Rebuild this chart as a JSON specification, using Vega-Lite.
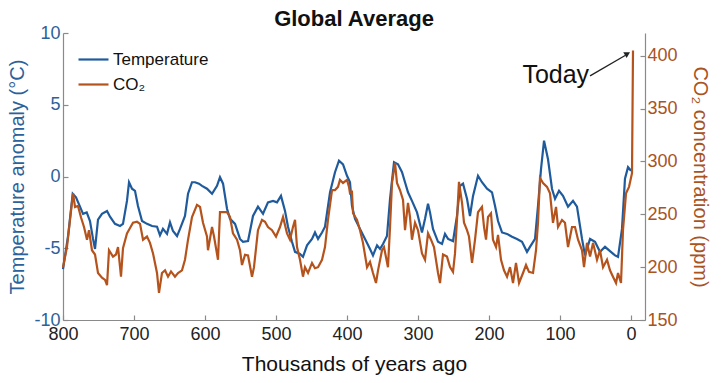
{
  "$schema": "https://vega.github.io/schema/vega-lite/v6.json",
  "width": 582,
  "height": 287,
  "autosize": {"type": "none"},
  "padding": {"left": 63, "top": 33, "right": 81, "bottom": 63},
  "background": "white",
  "config": {
    "view": {"stroke": null},
    "font": "Liberation Sans",
    "axis": {"grid": false, "labelFont": "Liberation Sans", "titleFont": "Liberation Sans", "labelFlush": false, "labelOverlap": false, "domainColor": "#8a8a8a", "tickColor": "#8a8a8a", "domainWidth": 1.2, "tickWidth": 1.2, "titleFontWeight": "normal"}
  },
  "title": {"text": "Global Average", "fontSize": 22, "fontWeight": "bold", "color": "#111111", "offset": -7, "anchor": "middle", "font": "Liberation Sans"},
  "datasets": {
    "temp": [
      {"a": 800, "v": -6.45}, {"a": 793, "v": -4.2}, {"a": 786.3, "v": -1.2}, {"a": 781.7, "v": -1.45}, {"a": 776.1, "v": -2.1}, {"a": 771.8, "v": -2.6}, {"a": 766.6, "v": -2.5}, {"a": 762.0, "v": -3.1}, {"a": 757.7, "v": -4.35}, {"a": 754.9, "v": -5.05}, {"a": 750.7, "v": -3.0}, {"a": 745.1, "v": -2.6}, {"a": 738.0, "v": -2.4}, {"a": 733.8, "v": -2.8}, {"a": 726.8, "v": -3.3}, {"a": 719.7, "v": -3.45}, {"a": 715.5, "v": -3.3}, {"a": 709.9, "v": -1.7}, {"a": 707.0, "v": -0.4}, {"a": 702.8, "v": -0.85}, {"a": 698.6, "v": -1.0}, {"a": 694.4, "v": -2.05}, {"a": 688.7, "v": -3.1}, {"a": 681.7, "v": -3.3}, {"a": 674.6, "v": -3.45}, {"a": 667.6, "v": -3.5}, {"a": 663.4, "v": -4.1}, {"a": 659.2, "v": -3.65}, {"a": 653.5, "v": -4.0}, {"a": 649.3, "v": -3.2}, {"a": 645.1, "v": -3.8}, {"a": 639.4, "v": -4.15}, {"a": 635.2, "v": -3.65}, {"a": 628.2, "v": -2.75}, {"a": 623.9, "v": -1.2}, {"a": 618.3, "v": -0.4}, {"a": 614.1, "v": -0.4}, {"a": 608.5, "v": -0.5}, {"a": 604.2, "v": -0.65}, {"a": 597.2, "v": -0.85}, {"a": 590.1, "v": -1.2}, {"a": 583.1, "v": -0.65}, {"a": 578.9, "v": -0.05}, {"a": 574.6, "v": -0.5}, {"a": 569.0, "v": -2.25}, {"a": 564.8, "v": -2.95}, {"a": 557.7, "v": -3.3}, {"a": 550.7, "v": -4.35}, {"a": 546.5, "v": -4.55}, {"a": 539.4, "v": -4.5}, {"a": 532.4, "v": -2.75}, {"a": 525.4, "v": -2.1}, {"a": 518.3, "v": -2.6}, {"a": 511.3, "v": -1.8}, {"a": 504.2, "v": -1.7}, {"a": 498.6, "v": -1.8}, {"a": 493.0, "v": -1.35}, {"a": 487.3, "v": -2.4}, {"a": 483.1, "v": -3.5}, {"a": 477.5, "v": -4.55}, {"a": 473.2, "v": -5.25}, {"a": 466.2, "v": -5.4}, {"a": 462.0, "v": -5.6}, {"a": 456.3, "v": -4.8}, {"a": 449.3, "v": -4.35}, {"a": 445.1, "v": -3.9}, {"a": 440.8, "v": -4.35}, {"a": 435.2, "v": -3.9}, {"a": 431.0, "v": -3.5}, {"a": 423.9, "v": -1.1}, {"a": 416.9, "v": 0.3}, {"a": 411.3, "v": 1.1}, {"a": 405.6, "v": 0.85}, {"a": 400.0, "v": 0.05}, {"a": 395.8, "v": -0.4}, {"a": 393.0, "v": -2.05}, {"a": 388.7, "v": -2.95}, {"a": 381.7, "v": -3.65}, {"a": 374.6, "v": -4.35}, {"a": 367.6, "v": -5.05}, {"a": 363.4, "v": -5.5}, {"a": 357.7, "v": -4.8}, {"a": 353.5, "v": -5.05}, {"a": 349.3, "v": -4.7}, {"a": 343.7, "v": -4.15}, {"a": 339.4, "v": -1.55}, {"a": 333.8, "v": 1.0}, {"a": 328.2, "v": 0.85}, {"a": 322.5, "v": 0.3}, {"a": 318.3, "v": -0.4}, {"a": 314.1, "v": -1.1}, {"a": 308.5, "v": -1.7}, {"a": 301.4, "v": -2.5}, {"a": 294.4, "v": -3.9}, {"a": 290.1, "v": -2.95}, {"a": 285.9, "v": -1.9}, {"a": 283.1, "v": -2.5}, {"a": 278.9, "v": -3.65}, {"a": 271.8, "v": -4.55}, {"a": 266.2, "v": -4.7}, {"a": 262.0, "v": -4.0}, {"a": 257.7, "v": -4.35}, {"a": 250.7, "v": -4.5}, {"a": 245.1, "v": -2.75}, {"a": 240.8, "v": -0.65}, {"a": 236.6, "v": -0.5}, {"a": 231.0, "v": -1.55}, {"a": 226.8, "v": -2.75}, {"a": 222.5, "v": -1.35}, {"a": 215.5, "v": 0.05}, {"a": 209.9, "v": -0.4}, {"a": 202.8, "v": -0.85}, {"a": 195.8, "v": -1.1}, {"a": 191.5, "v": -2.05}, {"a": 187.3, "v": -3.1}, {"a": 181.7, "v": -3.9}, {"a": 174.6, "v": -4.0}, {"a": 167.6, "v": -4.2}, {"a": 160.6, "v": -4.35}, {"a": 153.5, "v": -4.55}, {"a": 146.5, "v": -5.25}, {"a": 142.3, "v": -4.9}, {"a": 135.2, "v": -4.35}, {"a": 131.0, "v": -2.05}, {"a": 126.8, "v": 0.5}, {"a": 122.5, "v": 2.5}, {"a": 116.9, "v": 1.2}, {"a": 111.3, "v": -0.85}, {"a": 107.0, "v": -1.55}, {"a": 101.4, "v": -1.0}, {"a": 95.8, "v": -1.35}, {"a": 88.7, "v": -2.1}, {"a": 81.7, "v": -1.7}, {"a": 76.1, "v": -2.1}, {"a": 69.0, "v": -4.35}, {"a": 64.8, "v": -5.5}, {"a": 57.7, "v": -4.35}, {"a": 50.7, "v": -4.55}, {"a": 43.7, "v": -5.25}, {"a": 36.6, "v": -4.9}, {"a": 29.6, "v": -5.2}, {"a": 22.5, "v": -5.5}, {"a": 18.3, "v": -5.6}, {"a": 12.7, "v": -3.65}, {"a": 8.5, "v": -0.15}, {"a": 4.2, "v": 0.65}, {"a": 0.0, "v": 0.4}
    ],
    "co2": [
      {"a": 800, "v": 200}, {"a": 794.4, "v": 219}, {"a": 785.9, "v": 270}, {"a": 783.1, "v": 257}, {"a": 778.9, "v": 258}, {"a": 774.6, "v": 247}, {"a": 770.4, "v": 238}, {"a": 766.2, "v": 226}, {"a": 763.4, "v": 235}, {"a": 759.2, "v": 216}, {"a": 754.9, "v": 212}, {"a": 750.7, "v": 194.5}, {"a": 745.1, "v": 190}, {"a": 740.8, "v": 188}, {"a": 738.0, "v": 183}, {"a": 735.2, "v": 216}, {"a": 729.6, "v": 210}, {"a": 725.4, "v": 212}, {"a": 722.5, "v": 219}, {"a": 718.3, "v": 191}, {"a": 715.5, "v": 218}, {"a": 709.9, "v": 232}, {"a": 705.6, "v": 237}, {"a": 701.4, "v": 242}, {"a": 695.8, "v": 243}, {"a": 691.5, "v": 241}, {"a": 687.3, "v": 226}, {"a": 681.7, "v": 229}, {"a": 677.5, "v": 223}, {"a": 673.2, "v": 213}, {"a": 667.6, "v": 194.5}, {"a": 664.8, "v": 175.6}, {"a": 660.6, "v": 194.5}, {"a": 656.3, "v": 197}, {"a": 652.1, "v": 191}, {"a": 647.9, "v": 196}, {"a": 642.3, "v": 191}, {"a": 638.0, "v": 194.5}, {"a": 632.4, "v": 197}, {"a": 628.2, "v": 207}, {"a": 623.9, "v": 226}, {"a": 618.3, "v": 247.5}, {"a": 611.3, "v": 259}, {"a": 607.0, "v": 257}, {"a": 602.8, "v": 242}, {"a": 597.2, "v": 229}, {"a": 595.8, "v": 216}, {"a": 590.1, "v": 238}, {"a": 587.3, "v": 229}, {"a": 581.7, "v": 207}, {"a": 578.9, "v": 252}, {"a": 573.2, "v": 252}, {"a": 569.0, "v": 252}, {"a": 564.8, "v": 247.5}, {"a": 560.6, "v": 232}, {"a": 554.9, "v": 226}, {"a": 550.7, "v": 216}, {"a": 547.9, "v": 202}, {"a": 543.7, "v": 211.6}, {"a": 539.4, "v": 211}, {"a": 533.8, "v": 191}, {"a": 531.0, "v": 200}, {"a": 525.4, "v": 235}, {"a": 519.7, "v": 244.7}, {"a": 515.5, "v": 243}, {"a": 511.3, "v": 238}, {"a": 505.6, "v": 235}, {"a": 500.0, "v": 229}, {"a": 494.4, "v": 238}, {"a": 490.1, "v": 247.5}, {"a": 484.5, "v": 232}, {"a": 480.3, "v": 226}, {"a": 476.1, "v": 238}, {"a": 473.2, "v": 244.7}, {"a": 470.4, "v": 219}, {"a": 466.2, "v": 207}, {"a": 462.0, "v": 191}, {"a": 459.2, "v": 200}, {"a": 454.9, "v": 194.5}, {"a": 449.3, "v": 204}, {"a": 445.1, "v": 199}, {"a": 440.8, "v": 200}, {"a": 435.2, "v": 207}, {"a": 431.0, "v": 219}, {"a": 426.8, "v": 244.7}, {"a": 421.1, "v": 273}, {"a": 416.9, "v": 273}, {"a": 412.7, "v": 276}, {"a": 409.9, "v": 282.6}, {"a": 405.6, "v": 279.7}, {"a": 400.0, "v": 282.6}, {"a": 397.2, "v": 276}, {"a": 395.8, "v": 270}, {"a": 393.0, "v": 271}, {"a": 391.5, "v": 251}, {"a": 385.9, "v": 244.7}, {"a": 381.7, "v": 235}, {"a": 377.5, "v": 223}, {"a": 371.8, "v": 200}, {"a": 367.6, "v": 205}, {"a": 363.4, "v": 194.5}, {"a": 359.2, "v": 185}, {"a": 356.3, "v": 197}, {"a": 350.7, "v": 216}, {"a": 347.9, "v": 219}, {"a": 342.3, "v": 200}, {"a": 339.4, "v": 238}, {"a": 336.6, "v": 279.7}, {"a": 332.4, "v": 298.7}, {"a": 329.6, "v": 279.7}, {"a": 325.4, "v": 273}, {"a": 321.1, "v": 263.6}, {"a": 318.3, "v": 235}, {"a": 314.1, "v": 260.8}, {"a": 311.3, "v": 247.5}, {"a": 308.5, "v": 226}, {"a": 304.2, "v": 242}, {"a": 300.0, "v": 235}, {"a": 294.4, "v": 213}, {"a": 290.1, "v": 207}, {"a": 285.9, "v": 232}, {"a": 281.7, "v": 226}, {"a": 277.5, "v": 219}, {"a": 271.8, "v": 194.5}, {"a": 269.0, "v": 185}, {"a": 264.8, "v": 212}, {"a": 259.2, "v": 210}, {"a": 254.9, "v": 200}, {"a": 250.7, "v": 195.5}, {"a": 247.9, "v": 213}, {"a": 245.1, "v": 244.7}, {"a": 242.3, "v": 280.7}, {"a": 238.0, "v": 260.8}, {"a": 235.2, "v": 242}, {"a": 231.0, "v": 235}, {"a": 228.2, "v": 229}, {"a": 223.9, "v": 204}, {"a": 219.7, "v": 226}, {"a": 215.5, "v": 252}, {"a": 209.9, "v": 257}, {"a": 207.0, "v": 238}, {"a": 204.2, "v": 226}, {"a": 201.4, "v": 247.5}, {"a": 197.2, "v": 251}, {"a": 194.4, "v": 226}, {"a": 190.1, "v": 219}, {"a": 187.3, "v": 230.5}, {"a": 183.1, "v": 207}, {"a": 178.9, "v": 197}, {"a": 174.6, "v": 191}, {"a": 170.4, "v": 200}, {"a": 166.2, "v": 185}, {"a": 162.0, "v": 204}, {"a": 157.7, "v": 185}, {"a": 152.1, "v": 194.5}, {"a": 147.9, "v": 202}, {"a": 143.7, "v": 195.5}, {"a": 138.0, "v": 194.5}, {"a": 133.8, "v": 216}, {"a": 131.0, "v": 242}, {"a": 128.2, "v": 284.5}, {"a": 123.9, "v": 279.7}, {"a": 118.3, "v": 276}, {"a": 114.1, "v": 270}, {"a": 109.9, "v": 242}, {"a": 105.6, "v": 257}, {"a": 102.8, "v": 238}, {"a": 97.2, "v": 244.7}, {"a": 93.0, "v": 242}, {"a": 88.7, "v": 219}, {"a": 83.1, "v": 238}, {"a": 78.9, "v": 238}, {"a": 74.6, "v": 226}, {"a": 69.0, "v": 216}, {"a": 66.2, "v": 200}, {"a": 62.0, "v": 223}, {"a": 57.7, "v": 210}, {"a": 53.5, "v": 223}, {"a": 47.9, "v": 207}, {"a": 43.7, "v": 216}, {"a": 39.4, "v": 200}, {"a": 33.8, "v": 207}, {"a": 29.6, "v": 197}, {"a": 25.4, "v": 191}, {"a": 21.1, "v": 185}, {"a": 18.3, "v": 194.5}, {"a": 14.1, "v": 185}, {"a": 11.3, "v": 235}, {"a": 7.0, "v": 270}, {"a": 2.8, "v": 276}, {"a": -1.4, "v": 289}, {"a": -2.8, "v": 405}
    ],
    "note": [{"a": 59, "v": 382, "label": "Today"}],
    "arrow": [{"a": 57.7, "v": 381}, {"a": 7.7, "v": 400.5}],
    "head": [{"a": 5.0, "v": 402}]
  },
  "encoding": {
    "x": {
      "field": "a",
      "type": "quantitative",
      "scale": {"domain": [-19.7, 800], "reverse": true, "nice": false, "zero": false},
      "axis": {"title": "Thousands of years ago", "values": [0, 100, 200, 300, 400, 500, 600, 700, 800], "format": "d", "labelFontSize": 18, "labelColor": "#222222", "titleFontSize": 21, "titleColor": "#111111", "tickSize": -5, "labelPadding": 10, "titlePadding": 10}
    }
  },
  "layer": [
    {
      "data": {"name": "temp"},
      "mark": {"type": "line", "strokeWidth": 2.2},
      "encoding": {
        "y": {
          "field": "v",
          "type": "quantitative",
          "scale": {"domain": [-10, 10], "nice": false, "zero": false},
          "axis": {"title": "Temperature anomaly (°C)", "values": [-10, -5, 0, 5, 10], "labelExpr": "'' + datum.value", "labelFontSize": 18, "labelColor": "#2b629a", "titleColor": "#2b629a", "titleFontSize": 20, "tickSize": -5, "labelPadding": 8, "titlePadding": 6}
        },
        "color": {
          "datum": "Temperature",
          "scale": {"domain": ["Temperature", "CO₂"], "range": ["#1f5b9c", "#b5531d"]},
          "legend": {"title": null, "orient": "none", "legendX": 14, "legendY": 10, "symbolType": "stroke", "symbolSize": 900, "symbolStrokeWidth": 2.2, "labelFontSize": 17, "labelColor": "#111111", "labelFont": "Liberation Sans", "rowPadding": -8, "labelOffset": 3, "padding": 0}
        }
      }
    },
    {
      "layer": [
        {
          "data": {"name": "co2"},
          "mark": {"type": "line", "strokeWidth": 2.2},
          "encoding": {
            "y": {
              "field": "v",
              "type": "quantitative",
              "scale": {"domain": [150, 421.6], "nice": false, "zero": false},
              "axis": {"orient": "right", "title": "CO₂ concentration (ppm)", "values": [150, 200, 250, 300, 350, 400], "labelFontSize": 18, "labelColor": "#a9531f", "titleColor": "#a9531f", "titleFontSize": 20, "tickSize": -5, "labelPadding": 7, "titlePadding": 12}
            },
            "color": {"datum": "CO₂"}
          }
        },
        {
          "data": {"name": "arrow"},
          "mark": {"type": "line", "color": "#222222", "strokeWidth": 1.3},
          "encoding": {"y": {"field": "v", "type": "quantitative"}}
        },
        {
          "data": {"name": "head"},
          "mark": {"type": "point", "shape": "triangle-up", "filled": true, "color": "#222222", "size": 45, "angle": 60, "opacity": 1},
          "encoding": {"y": {"field": "v", "type": "quantitative"}}
        },
        {
          "data": {"name": "note"},
          "mark": {"type": "text", "align": "right", "baseline": "middle", "fontSize": 25, "font": "Liberation Sans", "color": "#111111"},
          "encoding": {"y": {"field": "v", "type": "quantitative"}, "text": {"field": "label"}}
        }
      ]
    }
  ],
  "resolve": {"scale": {"y": "independent"}}
}
